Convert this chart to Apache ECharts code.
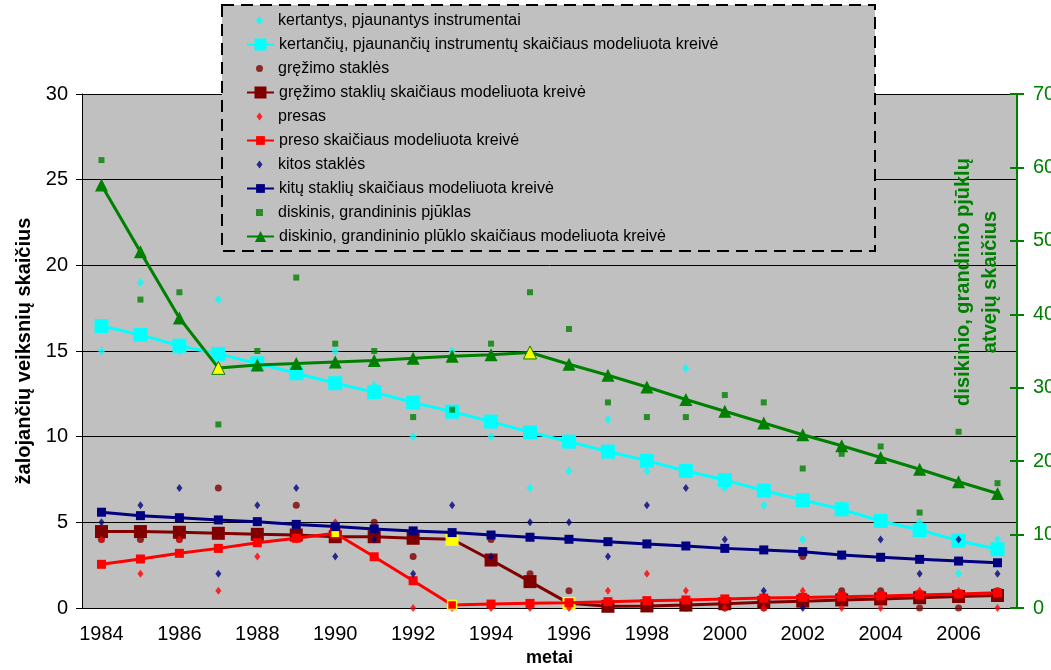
<!DOCTYPE html>
<html>
<head>
<meta charset="utf-8">
<script src="https://cdn.jsdelivr.net/npm/echarts@6/dist/echarts.min.js"></script>
<style>
html,body{margin:0;padding:0;background:#fff;}
#c{width:1051px;height:670px;}
</style>
</head>
<body>
<div id="c"></div>
<script>
const years = ['1984','1985','1986','1987','1988','1989','1990','1991','1992','1993','1994','1995','1996','1997','1998','1999','2000','2001','2002','2003','2004','2005','2006','2007'];
const leftTicks = [0,5,10,15,20,25,30];
const rightTicks = [0,10,20,30,40,50,60,70];

const cutObs     = [15,19,15,18,14,14,15,13,10,15,10,7,8,11,8,14,7,6,4,6,5,5,2,4];
const cutModel   = [16.46,15.94,15.31,14.83,14.28,13.70,13.12,12.60,11.99,11.46,10.88,10.26,9.71,9.13,8.60,8.00,7.47,6.85,6.30,5.76,5.08,4.55,3.93,3.43];
const drillObs   = [4,4,4,7,4,6,4,5,3,4,4,2,1,0,0,0,0,0,3,1,1,0,0,1];
const drillModel = [4.46,4.46,4.42,4.36,4.30,4.26,4.16,4.16,4.07,4.01,2.80,1.54,0.27,0.10,0.12,0.17,0.25,0.33,0.40,0.47,0.53,0.60,0.67,0.73];
const pressObs   = [4,2,4,1,3,4,5,3,0,0,0,0,0,1,2,1,0,0,1,0,0,1,1,0];
const pressModel = [2.55,2.86,3.19,3.48,3.81,4.07,4.36,2.99,1.59,0.18,0.23,0.27,0.31,0.37,0.43,0.47,0.53,0.58,0.62,0.66,0.70,0.76,0.82,0.89];
const otherObs   = [5,6,7,2,6,7,3,4,2,6,3,5,5,3,6,7,4,1,0,3,4,2,4,2];
const otherModel = [5.59,5.39,5.27,5.14,5.04,4.88,4.75,4.61,4.50,4.40,4.26,4.13,4.01,3.87,3.74,3.62,3.48,3.39,3.29,3.09,2.96,2.84,2.74,2.64];
const sawObs     = [61,42,43,25,35,45,36,35,26,27,36,43,38,28,26,26,29,28,19,21,22,13,24,17];
const sawModel   = [57.6,48.5,39.5,32.7,33.1,33.3,33.5,33.7,34.0,34.3,34.5,34.8,33.2,31.7,30.1,28.4,26.8,25.2,23.6,22.1,20.5,18.9,17.2,15.6];

const names = [
  'kertantys, pjaunantys instrumentai',
  'kertančių, pjaunančių instrumentų skaičiaus modeliuota kreivė',
  'gręžimo staklės',
  'gręžimo staklių skaičiaus modeliuota kreivė',
  'presas',
  'preso skaičiaus modeliuota kreivė',
  'kitos staklės',
  'kitų staklių skaičiaus modeliuota kreivė',
  'diskinis, grandininis pjūklas',
  'diskinio, grandininio plūklo skaičiaus modeliuota kreivė'
];
const leftTitle = 'žalojančių veiksnių skaičius';
const rightTitle1 = 'disikinio, grandinio pjūklų';
const rightTitle2 = 'atvejų skaičius';
const xTitle = 'metai';

const FONT = 'Liberation Sans, Arial, sans-serif';
const YEL = '#ffff00';

function scatter(name, data, color, symbol, size, yIdx) {
  return {name, type:'scatter', data, yAxisIndex:yIdx||0, symbol, symbolSize:size,
    itemStyle:{color}, silent:true};
}
function line(name, data, color, symbol, size, yIdx, special) {
  const d = data.map((v,i)=> special && special[i] ? {value:v, itemStyle:special[i]} : v);
  return {name, type:'line', data:d, yAxisIndex:yIdx||0, symbol, symbolSize:size,
    showAllSymbol:true, lineStyle:{color, width:3}, itemStyle:{color, borderWidth:0},
    silent:true};
}
const sawSpecial = {3:{color:YEL,borderColor:'#008000',borderWidth:1}, 11:{color:YEL,borderColor:'#008000',borderWidth:1}};
const drillSpecial = {9:{color:YEL}, 12:{color:YEL}};
const pressSpecial = {6:{color:YEL,borderColor:'#ff0000',borderWidth:1.5}, 9:{color:'#ff0000',borderColor:YEL,borderWidth:1.5}};

const series = [
  scatter(names[0], cutObs, '#00ffff', 'diamond', [7,9]),
  line(names[1], cutModel, '#00ffff', 'rect', 14),
  scatter(names[2], drillObs, '#800000', 'circle', 7),
  line(names[3], drillModel, '#800000', 'rect', 13, 0, drillSpecial),
  scatter(names[4], pressObs, '#ff0000', 'diamond', [6,8]),
  line(names[5], pressModel, '#ff0000', 'rect', 9, 0, pressSpecial),
  scatter(names[6], otherObs, '#000080', 'diamond', [6,8]),
  line(names[7], otherModel, '#000080', 'rect', 9),
  scatter(names[8], sawObs, '#008000', 'rect', 6, 1),
  line(names[9], sawModel, '#008000', 'triangle', 13, 1, sawSpecial)
];
series.forEach((s,i)=>{ s.z = 3 + i*0.1; });

// legend icons drawn inside a 27-wide box so they sit centred under the line icons
const DIAMOND9 = 'path://M0,0L0,0M27,9L27,9M13.5,0L17,4.5L13.5,9L10,4.5Z';
const CIRCLE7 = 'path://M0,0L0,0M27,7L27,7M10,3.5A3.5,3.5,0,1,1,17,3.5A3.5,3.5,0,1,1,10,3.5Z';
const DIAMOND8 = 'path://M0,0L0,0M27,8L27,8M13.5,0L16.5,4L13.5,8L10.5,4Z';
const SQUARE7 = 'path://M0,0L0,0M27,7L27,7M10,0L17,0L17,7L10,7Z';
const legendIcon = [DIAMOND9,null,CIRCLE7,null,DIAMOND8,null,DIAMOND8,null,SQUARE7,null];
const legendIconH = [9,15,7,15,8,11,8,11,7,14];
const legend = names.map((n,i)=>({
  data:[legendIcon[i] ? {name:n, icon:legendIcon[i]} : {name:n}],
  orient:'vertical', left:246, top: 20.5 + 24*i - 10,
  itemWidth:27, itemHeight:legendIconH[i], padding:0, selectedMode:false,
  textStyle:{fontSize:16, color:'#000', fontFamily:FONT, lineHeight:20},
  z:60
}));

const chart = echarts.init(document.getElementById('c'), null, {renderer:'canvas'});
chart.setOption({
  animation:false,
  backgroundColor:'#ffffff',
  textStyle:{fontFamily:FONT},
  grid:{left:82, right:34, top:94, bottom:62, containLabel:false, outerBoundsMode:'none',
        show:true, backgroundColor:'#c0c0c0', borderWidth:0},
  legend,
  xAxis:{
    type:'category', data:years, boundaryGap:true,
    name:xTitle, nameLocation:'middle', nameGap:39,
    nameTextStyle:{fontSize:18, fontWeight:'bold', color:'#000', fontFamily:FONT},
    axisLine:{lineStyle:{color:'#000', width:1}},
    axisTick:{interval:0, length:7, lineStyle:{color:'#000'}},
    axisLabel:{interval:1, fontSize:20, color:'#000', margin:16, fontFamily:FONT},
    splitLine:{show:false}
  },
  yAxis:[
    {type:'value', position:'left', min:leftTicks[0], max:leftTicks[leftTicks.length-1], interval:5,
     name:leftTitle, nameLocation:'middle', nameGap:41, nameRotate:90,
     nameTextStyle:{fontSize:20, fontWeight:'bold', color:'#000', fontFamily:FONT},
     axisLine:{show:true, lineStyle:{color:'#000'}},
     axisTick:{show:true, length:6, lineStyle:{color:'#000'}},
     axisLabel:{fontSize:20, color:'#000', margin:14, fontFamily:FONT},
     splitLine:{show:true, lineStyle:{color:'#000', width:1}}},
    {type:'value', position:'right', min:rightTicks[0], max:rightTicks[rightTicks.length-1], interval:10,
     axisLine:{show:true, lineStyle:{color:'#008000', width:2}},
     axisTick:{show:true, length:7, lineStyle:{color:'#008000', width:2}},
     axisLabel:{fontSize:20, color:'#008000', margin:16, fontFamily:FONT},
     splitLine:{show:false}},
    {type:'value', position:'right', min:rightTicks[0], max:rightTicks[rightTicks.length-1], interval:10,
     axisLine:{show:false},
     axisTick:{show:true, inside:true, length:7, lineStyle:{color:'#008000', width:2}},
     axisLabel:{show:false}, splitLine:{show:false}}
  ],
  graphic:[
    {type:'rect', z:50, shape:{x:222, y:5, width:653, height:246},
     style:{fill:'#c0c0c0', stroke:'#000', lineWidth:2, lineDash:[12,7]}},
    {type:'text', z:20, x:963, y:282, rotation:Math.PI/2,
     style:{text:rightTitle1, fill:'#008000', font:'bold 20px '+FONT, align:'center', verticalAlign:'middle'}},
    {type:'text', z:20, x:990, y:282, rotation:Math.PI/2,
     style:{text:rightTitle2, fill:'#008000', font:'bold 20px '+FONT, align:'center', verticalAlign:'middle'}}
  ],
  series
});
</script>
</body>
</html>
